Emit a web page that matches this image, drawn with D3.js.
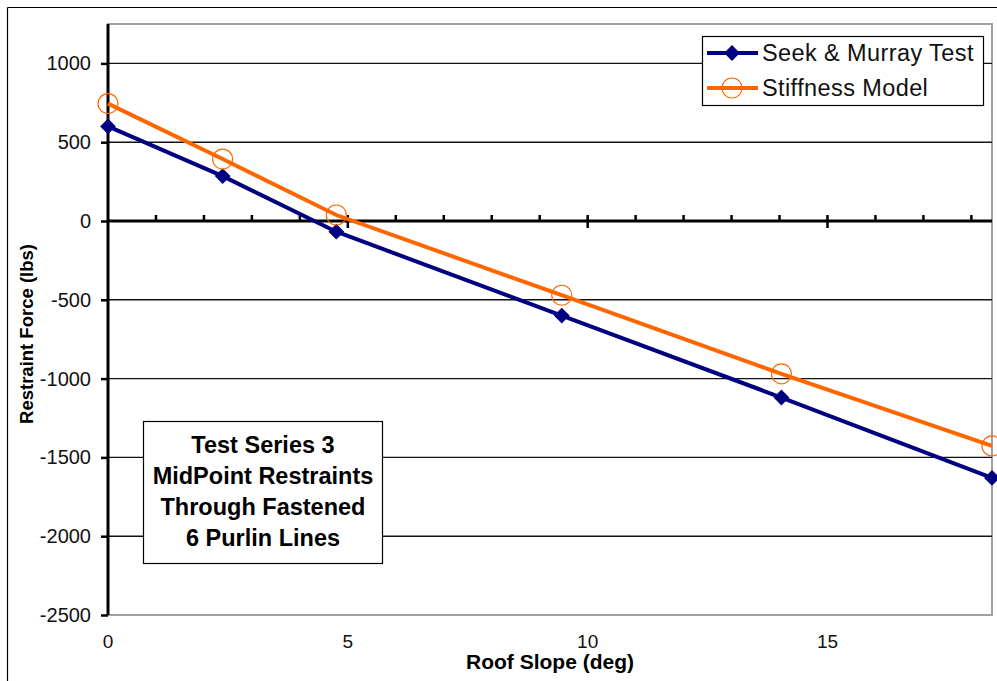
<!DOCTYPE html>
<html>
<head>
<meta charset="utf-8">
<script src="https://cdn.jsdelivr.net/npm/d3@7"></script>
<style>
  body { margin: 0; background: #fff; }
  svg { display: block; font-family: "Liberation Sans", Arial, sans-serif; }
</style>
</head>
<body>
<svg id="chart" width="997" height="681"></svg>
<script>
// roof slopes: 0, 0.5:12, 1:12, 2:12, 3:12, 4:12 in degrees
const slopeDeg = [0, 2.39, 4.76, 9.46, 14.04, 18.43];
const seekMurray = [600, 285, -68, -600, -1120, -1630];
const stiffness = [745, 393, 38, -471, -970, -1427];

const yTicks = [1000, 500, 0, -500, -1000, -1500, -2000, -2500];
const xTicks = [0, 5, 10, 15];
const seriesNames = ["Seek & Murray Test", "Stiffness Model"];
const noteLines = ["Test Series 3", "MidPoint Restraints", "Through Fastened", "6 Purlin Lines"];

const svg = d3.select("#chart");
const plotL = 108, plotR = 992, plotT = 24, plotB = 615;

const x = d3.scaleLinear().domain([0, 18.43]).range([plotL, plotR]);
const y = d3.scaleLinear().domain([-2500, 1250]).range([plotB, plotT]);

// outer chart frame (only top and left visible)
svg.append("line").attr("x1", 7.5).attr("x2", 997).attr("y1", 7.5).attr("y2", 7.5)
    .style("stroke", "#000").style("stroke-width", 1.2);
svg.append("line").attr("x1", 7.5).attr("x2", 7.5).attr("y1", 7.5).attr("y2", 681)
    .style("stroke", "#000").style("stroke-width", 1.2);

// plot area border
svg.append("rect")
    .attr("x", plotL).attr("y", plotT)
    .attr("width", plotR - plotL).attr("height", plotB - plotT)
    .style("fill", "none").style("stroke", "#a0a0a0").style("stroke-width", 2);

// gridlines
svg.append("g").selectAll("line")
    .data(yTicks.filter(d => d !== 0 && d !== -2500))
    .enter().append("line")
    .attr("x1", plotL).attr("x2", plotR)
    .attr("y1", d => y(d)).attr("y2", d => y(d))
    .style("stroke", "#111").style("stroke-width", 1.4);

// y axis
const yAxis = svg.append("g")
    .attr("transform", `translate(${plotL},0)`)
    .call(d3.axisLeft(y).tickValues(yTicks).tickSize(7).tickPadding(10).tickFormat(d3.format("d")));
yAxis.select(".domain").attr("d", `M0,${plotT}V${plotB}`).style("stroke", "#000").style("stroke-width", 3);
yAxis.selectAll(".tick line").style("stroke", "#000").style("stroke-width", 2.5);
yAxis.selectAll(".tick text")
    .style("font-size", "20px").style("fill", "#111")
    .text(d => d < 0 ? "-" + Math.abs(d) : d);

// zero line with ticks
const zero = svg.append("g").attr("transform", `translate(0,${y(0)})`);
zero.append("line").attr("x1", plotL).attr("x2", plotR)
    .style("stroke", "#000").style("stroke-width", 3);
zero.selectAll(".minor")
    .data(d3.range(1, 19).filter(d => d % 5 !== 0))
    .enter().append("line")
    .attr("class", "minor")
    .attr("x1", d => x(d)).attr("x2", d => x(d))
    .attr("y1", -6).attr("y2", 0)
    .style("stroke", "#000").style("stroke-width", 2.5);
zero.selectAll(".major")
    .data(xTicks.filter(d => d > 0))
    .enter().append("line")
    .attr("class", "major")
    .attr("x1", d => x(d)).attr("x2", d => x(d))
    .attr("y1", -6).attr("y2", 7)
    .style("stroke", "#000").style("stroke-width", 2.5);

// x tick labels (low position)
svg.append("g").selectAll("text")
    .data(xTicks)
    .enter().append("text")
    .attr("x", d => x(d)).attr("y", 648)
    .attr("text-anchor", "middle")
    .style("font-size", "19px").style("fill", "#111")
    .text(d => d);

// axis titles
svg.append("text")
    .attr("x", 550).attr("y", 669)
    .attr("text-anchor", "middle")
    .style("font-size", "21px").style("font-weight", "bold")
    .text("Roof Slope (deg)");
svg.append("text")
    .attr("transform", "translate(33,334) rotate(-90)")
    .attr("text-anchor", "middle")
    .style("font-size", "18.5px").style("font-weight", "bold")
    .text("Restraint Force (lbs)");

// series
const line = d3.line().x(d => x(d[0])).y(d => y(d[1]));
const navyPts = slopeDeg.map((s, i) => [s, seekMurray[i]]);
const orangePts = slopeDeg.map((s, i) => [s, stiffness[i]]);
const diamond = d3.symbol(d3.symbolSquare, 125);

svg.append("path").datum(navyPts).attr("d", line)
    .style("fill", "none").style("stroke", "#000080").style("stroke-width", 4);
svg.append("g").selectAll("path")
    .data(navyPts).enter().append("path")
    .attr("d", diamond)
    .attr("transform", d => `translate(${x(d[0])},${y(d[1])}) rotate(45)`)
    .style("fill", "#000080");

svg.append("path").datum(orangePts).attr("d", line)
    .style("fill", "none").style("stroke", "#ff6600").style("stroke-width", 4);
svg.append("g").selectAll("circle")
    .data(orangePts).enter().append("circle")
    .attr("cx", d => x(d[0])).attr("cy", d => y(d[1])).attr("r", 10)
    .style("fill", "none").style("stroke", "#ff6600").style("stroke-width", 1.2);

// legend
const legend = svg.append("g");
legend.append("rect")
    .attr("x", 702.5).attr("y", 36.5).attr("width", 281).attr("height", 69)
    .style("fill", "#fff").style("stroke", "#000").style("stroke-width", 1.2);
const rows = legend.selectAll(".row")
    .data(seriesNames).enter().append("g")
    .attr("class", "row")
    .attr("transform", (d, i) => `translate(0,${53 + i * 35})`);
rows.append("line").attr("x1", 707).attr("x2", 758)
    .style("stroke", (d, i) => i === 0 ? "#000080" : "#ff6600").style("stroke-width", 4);
rows.filter((d, i) => i === 0).append("path")
    .attr("d", diamond).attr("transform", "translate(732,0) rotate(45)")
    .style("fill", "#000080");
rows.filter((d, i) => i === 1).append("circle")
    .attr("cx", 732).attr("cy", 0).attr("r", 10)
    .style("fill", "#fff").style("stroke", "#ff6600").style("stroke-width", 1.2);
rows.filter((d, i) => i === 1).append("line")
    .attr("x1", 721).attr("x2", 743)
    .style("stroke", "#ff6600").style("stroke-width", 4);
rows.append("text")
    .attr("x", 762).attr("y", 8)
    .style("font-size", "23.5px").style("letter-spacing", "0.4px").style("fill", "#111")
    .text(d => d);

// note box
const note = svg.append("g");
note.append("rect")
    .attr("x", 143.5).attr("y", 421.5).attr("width", 239).attr("height", 142)
    .style("fill", "#fff").style("stroke", "#000").style("stroke-width", 1.2);
note.selectAll("text")
    .data(noteLines).enter().append("text")
    .attr("x", 263).attr("y", (d, i) => 453 + i * 31)
    .attr("text-anchor", "middle")
    .style("font-size", "23.5px").style("font-weight", "bold").style("fill", "#000")
    .text(d => d);
</script>
</body>
</html>
